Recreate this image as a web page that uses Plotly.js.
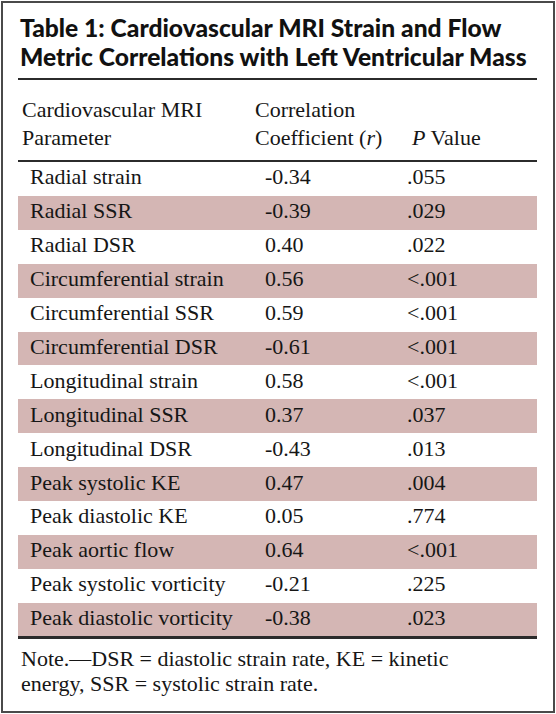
<!DOCTYPE html>
<html>
<head>
<meta charset="utf-8">
<script src="https://cdn.plot.ly/plotly-3.0.1.min.js"></script>
<style>html,body{margin:0;padding:0;background:#fff;}#chart{width:556px;height:714px;}</style>
</head>
<body>
<div id="chart"></div>
<script>
var parameters = ["Radial strain","Radial SSR","Radial DSR","Circumferential strain","Circumferential SSR","Circumferential DSR","Longitudinal strain","Longitudinal SSR","Longitudinal DSR","Peak systolic KE","Peak diastolic KE","Peak aortic flow","Peak systolic vorticity","Peak diastolic vorticity"];
var coefficients = ["-0.34","-0.39","0.40","0.56","0.59","-0.61","0.58","0.37","-0.43","0.47","0.05","0.64","-0.21","-0.38"];
var pValues = [".055",".029",".022","<.001","<.001","<.001","<.001",".037",".013",".004",".774","<.001",".225",".023"];
var headerLine1 = ["Cardiovascular MRI","Correlation",""];
var headerLine2 = ["Parameter","Coefficient (<i>r</i>)","<i>P</i> Value"];
var titleLines = ["Table 1: Cardiovascular MRI Strain and Flow","Metric Correlations with Left Ventricular Mass"];
var noteLines = ["Note.—DSR = diastolic strain rate, KE = kinetic","energy, SSR = systolic strain rate."];

var W = 556, H = 714;
function fx(p){return p/W;}
function fy(p){return 1 - p/H;}
var band = "#d4b6b4", white = "#ffffff";
var serif = "Liberation Serif";
var textColor = "#161616";
var tableLeft = 18, tableRight = 537;
var rowH = 33.9;
var bodyTop = 162, bodyBottom = bodyTop + rowH * parameters.length;
var colText = [30, 265, 407];
var headText = [22, 255, 412];
function textFont(){return {family: serif, size: 22, color: textColor};}

var rowFill = parameters.map(function(_, i){return i % 2 === 1 ? band : white;});
var bands = {
  type: "bar", orientation: "h", y: parameters,
  x: parameters.map(function(){return tableRight - tableLeft;}),
  base: tableLeft, width: 1,
  marker: {color: rowFill, line: {width: 0}},
  hoverinfo: "skip"
};
function column(values, xpos, yaxis, rows){
  return {
    type: "scatter", mode: "text", y: rows, yaxis: yaxis,
    x: values.map(function(){return xpos;}),
    text: values, textposition: "middle right",
    textfont: textFont(), hoverinfo: "skip", cliponaxis: false
  };
}
var headRows = ["line1", "line2"];
var traces = [
  bands,
  column(parameters, colText[0], "y", parameters),
  column(coefficients, colText[1], "y", parameters),
  column(pValues, colText[2], "y", parameters)
];
for (var ci = 0; ci < 3; ci++) {
  traces.push(column([headerLine1[ci], headerLine2[ci]], headText[ci], "y2", headRows));
}

var ruleColor = "#2b2b2b";
var shapes = [
  {type: "rect", xref: "paper", yref: "paper", x0: fx(2), x1: fx(554), y0: fy(712), y1: fy(2), line: {color: "#4a4a4a", width: 2}},
  {type: "line", xref: "paper", yref: "paper", x0: fx(tableLeft), x1: fx(tableRight), y0: fy(79), y1: fy(79), line: {color: ruleColor, width: 2}},
  {type: "line", xref: "paper", yref: "paper", x0: fx(tableLeft), x1: fx(tableRight), y0: fy(161), y1: fy(161), line: {color: ruleColor, width: 2}},
  {type: "line", xref: "paper", yref: "paper", x0: fx(tableLeft), x1: fx(tableRight), y0: fy(bodyBottom + 1), y1: fy(bodyBottom + 1), line: {color: ruleColor, width: 3}}
];

var annotations = [];
titleLines.forEach(function(t, i){
  annotations.push({text: t, showarrow: false, xref: "paper", yref: "paper",
    x: fx(18), y: fy(28 + 29 * i), xanchor: "left", yanchor: "middle", align: "left",
    font: {family: "Lato Black, Lato", size: 24.6, weight: 900, color: "#111111"}});
});
noteLines.forEach(function(t, i){
  annotations.push({text: t, showarrow: false, xref: "paper", yref: "paper",
    x: fx(19), y: fy(658 + 25 * i), xanchor: "left", yanchor: "middle", align: "left",
    font: textFont()});
});

var layout = {
  width: W, height: H,
  margin: {l: 0, r: 0, t: 0, b: 0},
  paper_bgcolor: "#ffffff", plot_bgcolor: "rgba(0,0,0,0)",
  font: textFont(),
  showlegend: false, bargap: 0, hovermode: false,
  xaxis: {range: [0, W], domain: [0, 1], visible: false, fixedrange: true},
  yaxis: {type: "category", categoryorder: "array", categoryarray: parameters,
          range: [parameters.length - 0.5, -0.5], domain: [fy(bodyBottom), fy(bodyTop)],
          visible: false, fixedrange: true},
  yaxis2: {type: "category", categoryorder: "array", categoryarray: headRows,
          range: [1.5, -0.5], domain: [fy(153), fy(97)], anchor: "x",
          visible: false, fixedrange: true},
  shapes: shapes,
  annotations: annotations
};

Plotly.newPlot("chart", traces, layout, {displayModeBar: false, staticPlot: true});
</script>
</body>
</html>
